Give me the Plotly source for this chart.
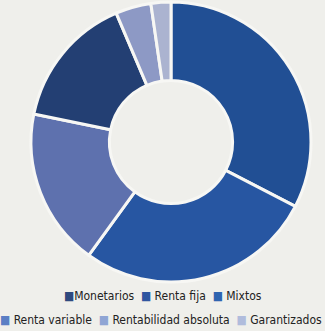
import plotly.graph_objects as go

# Data (clockwise from 12 o'clock)
labels = ["Renta fija", "Mixtos", "Renta variable", "Monetarios", "Rentabilidad absoluta", "Garantizados"]
values = [32.6, 27.4, 18.2, 15.4, 4.1, 2.3]
slice_colors = ["#214f94", "#2756a2", "#5e71ae", "#233f73", "#8d99c5", "#abb3d0"]

# Legend (as shown)
legend_row1 = ["Monetarios", "Renta fija", "Mixtos"]
legend_row2 = ["Renta variable", "Rentabilidad absoluta", "Garantizados"]
legend_colors = {
    "Monetarios": "#2f4a7f",
    "Renta fija": "#3056a0",
    "Mixtos": "#2f64b0",
    "Renta variable": "#5a7ec4",
    "Rentabilidad absoluta": "#8fa5d4",
    "Garantizados": "#b0bcdc",
}

W, H = 325, 331
cx, cy, r = 171, 142, 140

fig = go.Figure()
fig.add_trace(go.Pie(
    labels=labels,
    values=values,
    sort=False,
    direction="clockwise",
    rotation=0,
    hole=0.44,
    marker=dict(colors=slice_colors, line=dict(color="#f7f7f4", width=3)),
    textinfo="none",
    hoverinfo="label+value",
    showlegend=False,
    domain=dict(x=[(cx - r) / W, (cx + r) / W], y=[1 - (cy + r) / H, 1 - (cy - r) / H]),
))

def row_text(items):
    parts = []
    for i, name in enumerate(items):
        gap = "" if (i == 0 and name == "Monetarios") else " "
        parts.append(f"<span style='color:{legend_colors[name]}'>■</span>{gap}{name}")
    return "<span style='font-stretch:condensed'>" + "  ".join(parts) + "</span>"

font = dict(family="DejaVu Sans", size=12, color="#222222")
fig.add_annotation(text=row_text(legend_row1), x=163 / W, y=1 - 296 / H, xref="paper", yref="paper",
                   xanchor="center", yanchor="middle", showarrow=False, font=font)
fig.add_annotation(text=row_text(legend_row2), x=161 / W, y=1 - 320 / H, xref="paper", yref="paper",
                   xanchor="center", yanchor="middle", showarrow=False, font=font)

fig.update_layout(
    width=W, height=H,
    margin=dict(l=0, r=0, t=0, b=0),
    paper_bgcolor="#efefeb",
    plot_bgcolor="#efefeb",
    showlegend=False,
)
fig.write_html("out.html")
